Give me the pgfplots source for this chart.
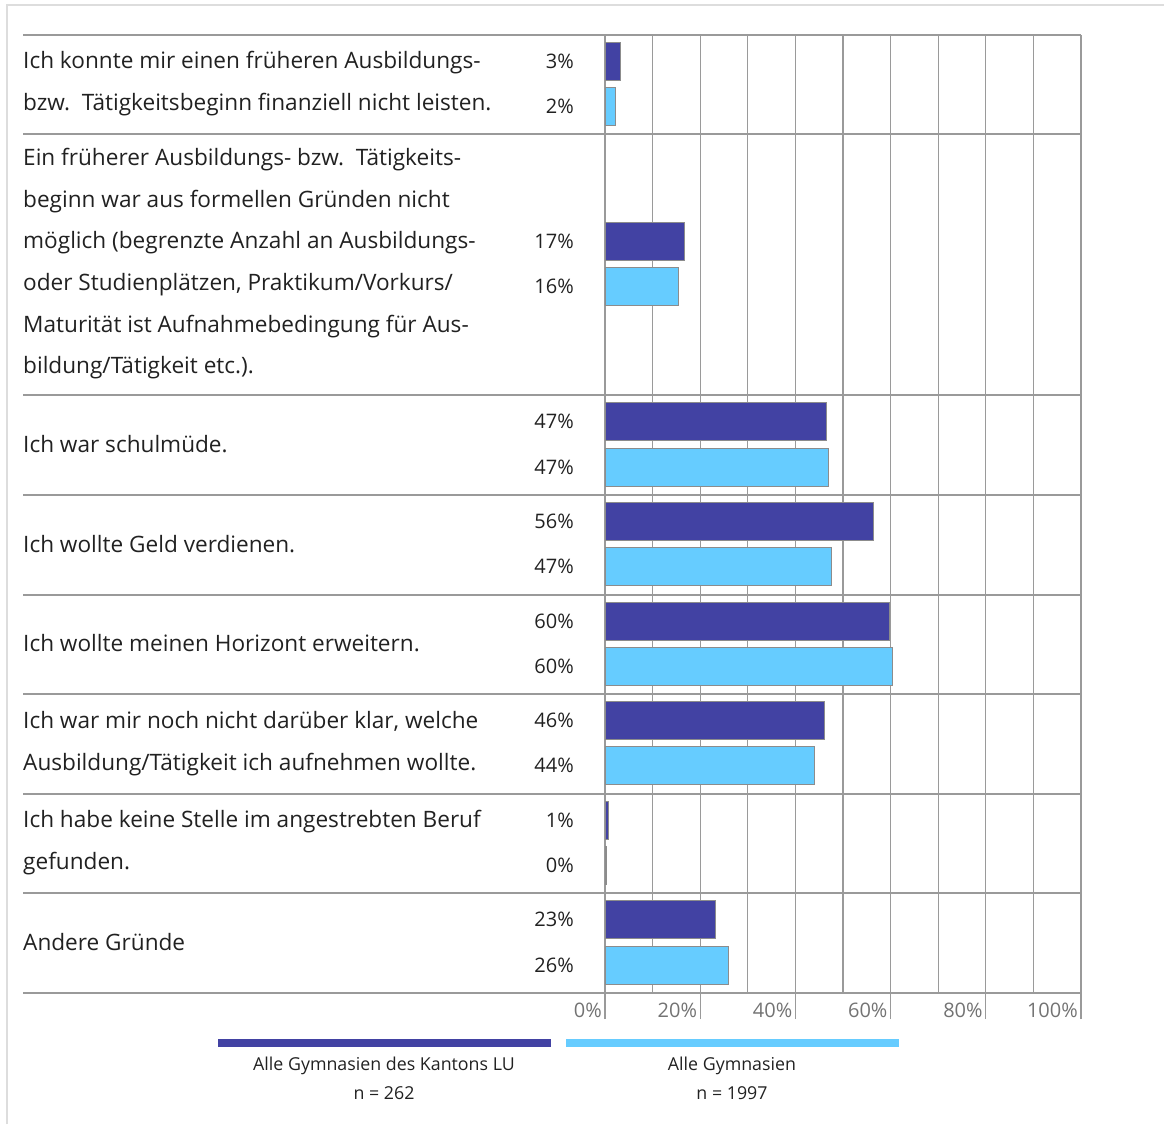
\documentclass[border=0pt]{standalone}
\usepackage{pgfplots}
\pgfplotsset{compat=1.18}
\usepackage{fontspec}
\setmainfont{Open Sans}

\definecolor{luBlue}{HTML}{4242A3}
\definecolor{chBlue}{HTML}{66CCFF}
\definecolor{gridc}{HTML}{9A9A9A}
\definecolor{framec}{HTML}{DDDDDD}

\newcommand{\catfont}{\fontsize{22.6pt}{26pt}\selectfont}
\newcommand{\legfont}{\fontsize{17.8pt}{21pt}\selectfont}
% one line of a category text, placed at its baseline (y in pixels from top)
\newcommand{\catline}[2]{\node[anchor=base west, inner sep=0pt, font=\catfont, text=black!87] at (23pt,-#1pt) {#2};}

\begin{document}
\begin{tikzpicture}
\useasboundingbox (0pt,0pt) rectangle (1164pt,-1124pt);
\draw[framec, line width=2pt] (7pt,-1124pt) -- (7pt,-5pt) -- (1164pt,-5pt);

\begin{axis}[
  at={(605pt,-35pt)}, anchor=north west,
  scale only axis, width=476pt, height=958pt,
  xmin=0, xmax=100, ymin=35, ymax=993, y dir=reverse,
  axis line style={draw=none},
  clip=false,
  xbar, bar width=38pt, bar shift=0pt,
  xtick={0,20,...,100}, minor xtick={10,30,...,90},
  xticklabels={0\%,20\%,40\%,60\%,80\%,100\%},
  xmajorgrids, xminorgrids,
  major grid style={gridc, line width=1.3pt},
  minor grid style={gridc, line width=1.3pt},
  xtick pos=left, xtick align=outside,
  major tick length=26pt, minor tick length=0pt,
  xtick style={gridc, line width=1.3pt},
  xticklabel style={anchor=base east, inner sep=0pt, xshift=-3pt, yshift=2pt,
    font=\fontsize{20pt}{24pt}\selectfont, text=black!55},
  ytick={61,106,241,286,421,467,521,566,621,666,720,765,820,865,919,965},
  yticklabels={3\%,2\%,17\%,16\%,47\%,47\%,56\%,47\%,60\%,60\%,46\%,44\%,1\%,0\%,23\%,26\%},
  ytick style={draw=none},
  yticklabel style={anchor=east, inner sep=0pt, xshift=-5pt,
    font=\fontsize{20pt}{24pt}\selectfont, text=black!87},
]
% Alle Gymnasien des Kantons LU
\addplot[fill=luBlue, draw=black!45, line width=1pt] coordinates {
  (3.2,61) (16.8,241) (46.6,421) (56.5,521) (59.7,621) (46.2,720) (0.8,820) (23.3,919)};
% Alle Gymnasien
\addplot[fill=chBlue, draw=black!45, line width=1pt] coordinates {
  (2.3,106) (15.5,286) (47.0,467) (47.5,566) (60.5,666) (44.1,765) (0.4,865) (26.0,965)};
\end{axis}

\foreach \yy in {35,134,395,495,595,694,794,893,993}
  \draw[gridc, line width=1.3pt] (23pt,-\yy pt) -- (1081pt,-\yy pt);

\catline{68.5}{Ich konnte mir einen früheren Ausbildungs-}
\catline{110.5}{bzw.\ \ Tätigkeitsbeginn finanziell nicht leisten.}
\catline{165.5}{Ein früherer Ausbildungs- bzw.\ \ Tätigkeits-}
\catline{207}{beginn war aus formellen Gründen nicht}
\catline{248.5}{möglich (begrenzte Anzahl an Ausbildungs-}
\catline{290}{oder Studienplätzen, Praktikum/Vorkurs/}
\catline{332}{Maturität ist Aufnahmebedingung für Aus-}
\catline{373.5}{bildung/Tätigkeit etc.).}
\catline{452.5}{Ich war schulmüde.}
\catline{552.5}{Ich wollte Geld verdienen.}
\catline{651.5}{Ich wollte meinen Horizont erweitern.}
\catline{728.5}{Ich war mir noch nicht darüber klar, welche}
\catline{770}{Ausbildung/Tätigkeit ich aufnehmen wollte.}
\catline{827.5}{Ich habe keine Stelle im angestrebten Beruf}
\catline{869}{gefunden.}
\catline{950.5}{Andere Gründe}

\draw[luBlue, line width=8pt] (218pt,-1042.5pt) -- (551pt,-1042.5pt);
\draw[chBlue, line width=8pt] (566pt,-1042.5pt) -- (899pt,-1042.5pt);
\node[anchor=base, inner sep=0pt, font=\legfont, text=black!87] at (384pt,-1070pt) {Alle Gymnasien des Kantons LU};
\node[anchor=base, inner sep=0pt, font=\legfont, text=black!87] at (384pt,-1099pt) {n = 262};
\node[anchor=base, inner sep=0pt, font=\legfont, text=black!87] at (732pt,-1070pt) {Alle Gymnasien};
\node[anchor=base, inner sep=0pt, font=\legfont, text=black!87] at (732pt,-1099pt) {n = 1997};
\end{tikzpicture}
\end{document}
